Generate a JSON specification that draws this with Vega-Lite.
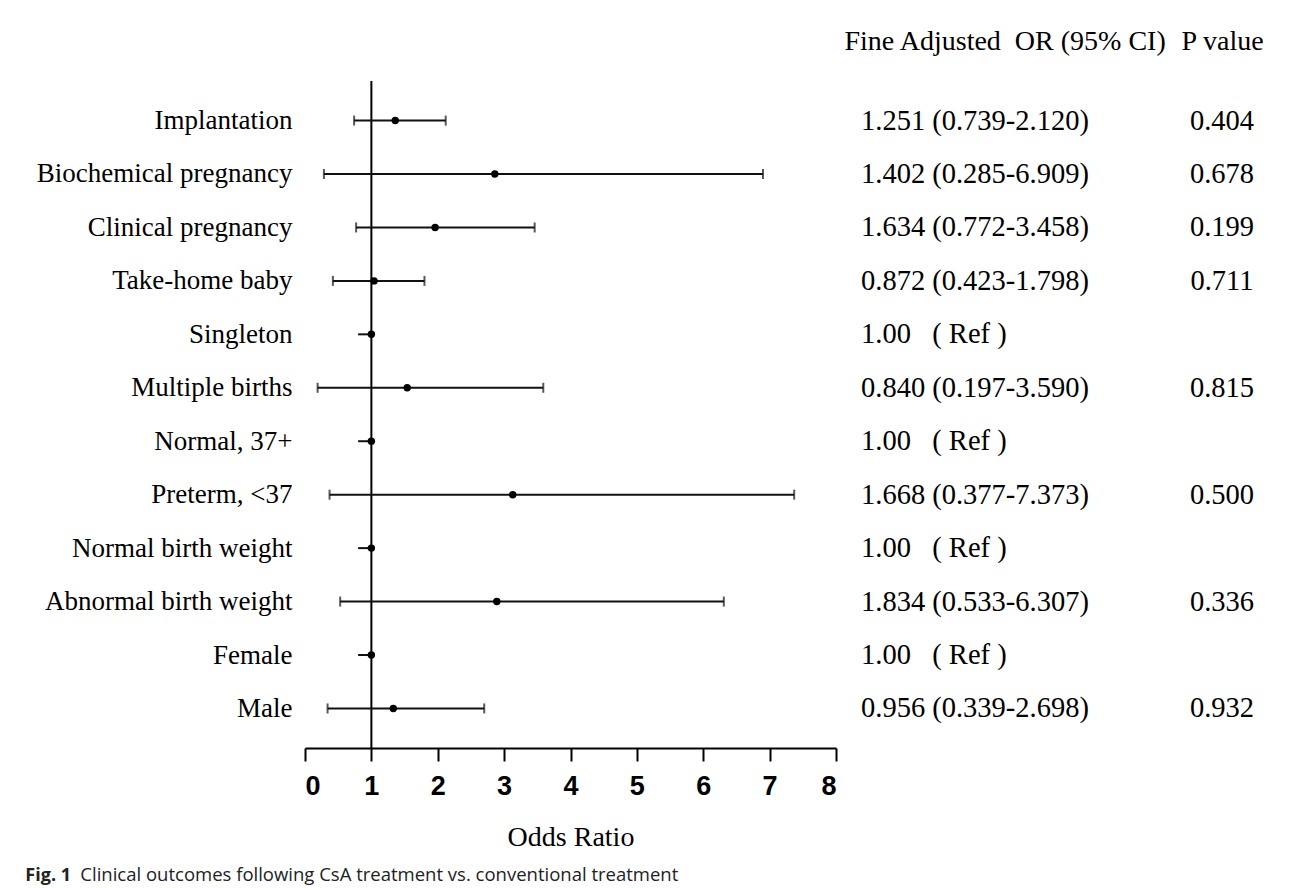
{
  "$schema": "https://vega.github.io/schema/vega-lite/v6.json",
  "background": "white",
  "padding": {"left": 25, "top": 27, "right": 0, "bottom": 15},
  "config": {"view": {"stroke": null}},
  "title": {"text": "Fig. 1", "orient": "bottom", "anchor": "start", "frame": "bounds", "font": "Open Sans", "fontSize": 18, "fontWeight": "bold", "color": "#222", "dx": -11, "dy": -22},
  "datasets": {
    "rows": [
      {"label": "Implantation", "or": 1.36, "lo": 0.74, "hi": 2.12, "ci": "1.251 (0.739-2.120)", "p": "0.404", "ref": false},
      {"label": "Biochemical pregnancy", "or": 2.86, "lo": 0.285, "hi": 6.90, "ci": "1.402 (0.285-6.909)", "p": "0.678", "ref": false},
      {"label": "Clinical pregnancy", "or": 1.96, "lo": 0.77, "hi": 3.46, "ci": "1.634 (0.772-3.458)", "p": "0.199", "ref": false},
      {"label": "Take-home baby", "or": 1.04, "lo": 0.42, "hi": 1.80, "ci": "0.872 (0.423-1.798)", "p": "0.711", "ref": false},
      {"label": "Singleton", "or": 1.0, "lo": 0.8, "hi": 1.0, "ci": "1.00\u00a0\u00a0\u00a0( Ref )", "p": "", "ref": true},
      {"label": "Multiple births", "or": 1.54, "lo": 0.19, "hi": 3.59, "ci": "0.840 (0.197-3.590)", "p": "0.815", "ref": false},
      {"label": "Normal, 37+", "or": 1.0, "lo": 0.8, "hi": 1.0, "ci": "1.00\u00a0\u00a0\u00a0( Ref )", "p": "", "ref": true},
      {"label": "Preterm, <37", "or": 3.13, "lo": 0.37, "hi": 7.37, "ci": "1.668 (0.377-7.373)", "p": "0.500", "ref": false},
      {"label": "Normal birth weight", "or": 1.0, "lo": 0.8, "hi": 1.0, "ci": "1.00\u00a0\u00a0\u00a0( Ref )", "p": "", "ref": true},
      {"label": "Abnormal birth weight", "or": 2.89, "lo": 0.53, "hi": 6.31, "ci": "1.834 (0.533-6.307)", "p": "0.336", "ref": false},
      {"label": "Female", "or": 1.0, "lo": 0.8, "hi": 1.0, "ci": "1.00\u00a0\u00a0\u00a0( Ref )", "p": "", "ref": true},
      {"label": "Male", "or": 1.33, "lo": 0.34, "hi": 2.70, "ci": "0.956 (0.339-2.698)", "p": "0.932", "ref": false}
    ]
  },
  "spacing": 7,
  "hconcat": [
    {
      "width": 531,
      "height": 667,
      "title": {"text": "Clinical outcomes following CsA treatment vs. conventional treatment", "orient": "bottom", "anchor": "start", "frame": "bounds", "font": "Open Sans", "fontSize": 18.5, "fontWeight": "normal", "color": "#222", "dx": 44, "offset": 15},
      "data": {"name": "rows"},
      "encoding": {
        "y": {"field": "label", "type": "nominal", "sort": null,
              "scale": {"type": "point", "padding": 0.74},
              "axis": {"title": null, "domain": false, "ticks": false, "labelFont": "Liberation Serif", "labelFontSize": 27, "labelColor": "#000", "labelPadding": 13, "labelLimit": 400}}
      },
      "layer": [
        {
          "data": {"values": [{"ref_line": 1}]},
          "mark": {"type": "rule", "color": "#000", "strokeWidth": 2},
          "encoding": {"x": {"field": "ref_line", "type": "quantitative"}, "y": null}
        },
        {
          "mark": {"type": "rule", "color": "#111", "strokeWidth": 2},
          "encoding": {
            "x": {"field": "lo", "type": "quantitative",
                  "scale": {"domain": [0, 8], "nice": false},
                  "axis": {"values": [0, 1, 2, 3, 4, 5, 6, 7, 8], "format": "d", "grid": false,
                           "domainColor": "#000", "domainWidth": 2, "tickColor": "#000", "tickWidth": 2, "tickSize": 13,
                           "labelFont": "Liberation Sans Narrow, Liberation Sans", "labelFontWeight": "bold", "labelFontSize": 27, "labelColor": "#000", "labelPadding": 12,
                           "title": "Odds Ratio", "titleFont": "Liberation Serif", "titleFontWeight": "normal", "titleFontSize": 28, "titleColor": "#000", "titlePadding": 24}},
            "x2": {"field": "hi"}
          }
        },
        {
          "transform": [{"filter": "!datum.ref"}],
          "mark": {"type": "tick", "color": "#111", "thickness": 2, "size": 10, "orient": "vertical"},
          "encoding": {"x": {"field": "lo", "type": "quantitative"}}
        },
        {
          "transform": [{"filter": "!datum.ref"}],
          "mark": {"type": "tick", "color": "#111", "thickness": 2, "size": 10, "orient": "vertical"},
          "encoding": {"x": {"field": "hi", "type": "quantitative"}}
        },
        {
          "mark": {"type": "circle", "color": "#000", "opacity": 1, "size": 55},
          "encoding": {"x": {"field": "or", "type": "quantitative"}}
        }
      ]
    },
    {
      "width": 361,
      "height": 667,
      "data": {"name": "rows"},
      "encoding": {
        "y": {"field": "label", "type": "nominal", "sort": null,
              "scale": {"type": "point", "padding": 0.74}, "axis": null}
      },
      "layer": [
        {
          "mark": {"type": "text", "align": "left", "font": "Liberation Serif", "fontSize": 28.5, "color": "#000"},
          "encoding": {
            "x": {"datum": "OR", "type": "nominal",
                  "scale": {"type": "point", "domain": ["OR", "P"], "padding": 0},
                  "axis": {"orient": "top", "title": null, "domain": false, "ticks": false, "labelAngle": 0,
                           "labelFont": "Liberation Serif", "labelFontSize": 28, "labelColor": "#000", "labelPadding": 26, "labelLimit": 600,
                           "labelExpr": "datum.value == 'OR' ? 'Fine Adjusted\u00a0\u00a0OR (95% CI)' : 'P value'",
                           "labelAlign": {"condition": {"test": "datum.value == 'OR'", "value": "left"}, "value": "center"},
                           "labelOffset": {"condition": {"test": "datum.value == 'OR'", "value": -17}, "value": 0}}},
            "text": {"field": "ci"}
          }
        },
        {
          "mark": {"type": "text", "align": "center", "font": "Liberation Serif", "fontSize": 28.5, "color": "#000"},
          "encoding": {
            "x": {"datum": "P", "type": "nominal"},
            "text": {"field": "p"}
          }
        }
      ]
    }
  ]
}
